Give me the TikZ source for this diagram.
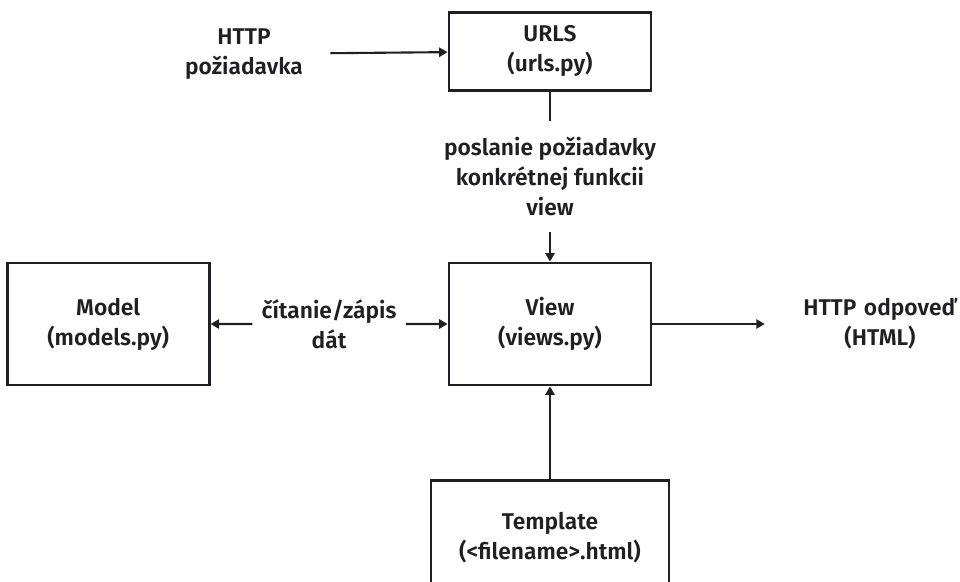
\documentclass[tikz,border=0pt]{standalone}
\usepackage{fontspec}
\setmainfont{Fira Sans}[BoldFont={Fira Sans SemiBold}]
\usepackage{tikz}
\usetikzlibrary{positioning, arrows.meta, calc}
\definecolor{ink}{RGB}{32,32,36}
\tikzset{
  txt/.style={text=ink, font=\bfseries\fontsize{16.2}{21.3}\selectfont},
  box/.style={txt, draw=ink, line width=2pt, minimum width=5.05cm, minimum height=3.05cm, align=center},
  lbl/.style={txt, align=center, inner sep=0pt},
  arr/.style={draw=ink, line width=1.5pt, -{Triangle[length=6pt,width=6.5pt]}},
  ln/.style={draw=ink, line width=1.5pt}
}

\begin{document}
\begin{tikzpicture}
\useasboundingbox (0,0) rectangle (24,-14.525);
\node[box](view) at (13.75,-8.1){View\\(views.py)};
\node[box, minimum height=1.95cm][above = 4.25cm of view](urls){URLS\\(urls.py)};
\node[box][left = 5.925cm of view](model){Model\\(models.py)};
\node[box, minimum width=5.95cm, minimum height=2.85cm][below = 2.325cm of view](template){Template\\(<filename>.html)};
\node[lbl, text width=4.3cm](request) at (6.1,-1.35){HTTP\\požiadavka};
\node[lbl, minimum height=2.775cm](send) at ($(urls.south)!0.5!(view.north)$){poslanie požiadavky\\konkrétnej funkcii\\view};
\node[lbl, text width=3.825cm](rw) at ($(model.east)!0.5!(view.west)$){čítanie/zápis\\dát};
\node[lbl, text width=5.75cm](response) at (22,-8.1){HTTP odpoveď\\(HTML)};
\draw[arr] (request) -- (urls);
\draw[ln] (urls) -- (send);
\draw[arr] (send) -- (view);
\draw[arr] (rw) -- (model);
\draw[arr] (rw) -- (view);
\draw[arr] (view) -- (response);
\draw[arr] (template) -- (view);
\end{tikzpicture}
\end{document}
